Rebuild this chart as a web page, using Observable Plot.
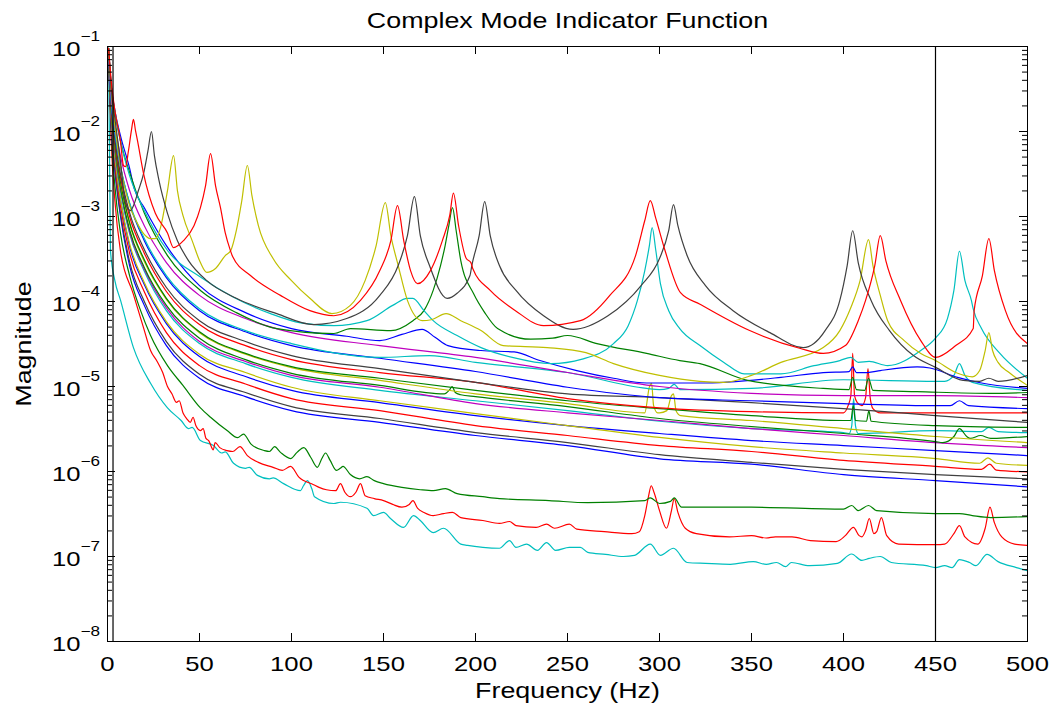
<!DOCTYPE html>
<html>
<head>
<meta charset="utf-8">
<script src="https://cdn.jsdelivr.net/npm/d3@7"></script>
<script src="https://cdn.jsdelivr.net/npm/@observablehq/plot@0.6"></script>
<style>
  html, body { margin: 0; padding: 0; background: #fff; }
  #chart { width: 1055px; height: 708px; }
</style>
</head>
<body>
<div id="chart"></div>
<script>
// ---- Text ----
const titleText = "Complex Mode Indicator Function";
const xLabelText = "Frequency (Hz)";
const yLabelText = "Magnitude";

// ---- Axes ----
const xTickValues = [0, 50, 100, 150, 200, 250, 300, 350, 400, 450, 500];
const yDecades = [1e-8, 1e-7, 1e-6, 1e-5, 1e-4, 1e-3, 1e-2, 1e-1];
const markerFreqs = [3, 450];

// ---- Line colours (classic MATLAB colour order) ----
const C = {
  blue: "#0000ff", green: "#008000", red: "#ff0000", cyan: "#00bfbf",
  magenta: "#bf00bf", yellow: "#bfbf00", gray: "#404040"
};

// ---- Dominant singular-value curves: [frequency Hz, magnitude] ----
const redMode = [[0.6,9.5e-2],[2,4.0e-2],[4,1.77e-2],[7,7.8e-3],[8.7,3.98e-3],[9.8,3.87e-3],[11.4,5.95e-3],[13,1.03e-2],[14.1,1.39e-2],[15.2,1.03e-2],[16.3,7.8e-3],[19.6,3.2e-3],[26,1.09e-3],[32.6,6.4e-4],[35.9,4.3e-4],[41.3,5.2e-4],[47,7.8e-4],[50.5,1.27e-3],[53.3,2.31e-3],[56,5.5e-3],[58.7,2.31e-3],[61.4,1.27e-3],[64,6.4e-4],[66.8,3.98e-4],[68,3.38e-4],[77.7,2.02e-4],[94,1.18e-4],[110,7.8e-5],[123,6.8e-5],[137.5,1.03e-4],[148,2.31e-4],[154,5.2e-4],[157.6,1.34e-3],[161,5.2e-4],[164.7,2.31e-4],[168.5,1.62e-4],[175.5,2.31e-4],[182,5.2e-4],[186,1.03e-3],[188,1.88e-3],[190.8,7.8e-4],[195,3.2e-4],[197.5,2.87e-4],[198.5,2.45e-4],[208,1.35e-4],[221.7,7.8e-5],[237,5.2e-5],[257,5.95e-5],[273,1.18e-4],[287,3.47e-4],[292,8.97e-4],[295,1.54e-3],[298,9.5e-4],[303,3.98e-4],[311.4,1.27e-4],[322,9.3e-5],[349,4.55e-5],[376.6,2.8e-5],[389,2.45e-5],[401,3.03e-5],[408,5.95e-5],[412,1.03e-4],[417,2.65e-4],[420,5.95e-4],[423,3.03e-4],[431,1.03e-4],[442,3.47e-5],[450,2.2e-5],[461,3.03e-5],[470.5,4.8e-5],[471,7.8e-5],[475.5,2.02e-4],[479,5.5e-4],[482,2.31e-4],[488,7.8e-5],[500,3.2e-5]];

const grayMode = [[0.6,9.5e-2],[2,3.2e-2],[4,1.43e-2],[7,4.55e-3],[9.8,1.42e-3],[12.5,1.17e-3],[14.1,1.34e-3],[16.8,2.02e-3],[19.6,3.2e-3],[22,5.95e-3],[23.9,1.0e-2],[25.5,5.2e-3],[28,2.65e-3],[32.6,1.09e-3],[38,5.2e-4],[44,3.03e-4],[54,1.76e-4],[70,1.09e-4],[92,7.2e-5],[112,5.35e-5],[130,6.3e-5],[148,1.18e-4],[158,2.65e-4],[163,5.95e-4],[166.8,1.71e-3],[170,5.95e-4],[175,2.65e-4],[184.6,1.09e-4],[190,1.25e-4],[197,2.02e-4],[198,2.65e-4],[202,5.95e-4],[205,1.5e-3],[208,5.95e-4],[213,2.65e-4],[222,1.35e-4],[237,6.8e-5],[253,4.7e-5],[272,6.8e-5],[290,1.54e-4],[300,3.2e-4],[305,6.8e-4],[307.6,1.38e-3],[310,7.8e-4],[315,3.47e-4],[325,1.54e-4],[340,7.8e-5],[360,4.3e-5],[378,2.87e-5],[390,4.55e-5],[398,1.03e-4],[402,2.65e-4],[405,6.8e-4],[408,2.87e-4],[415,1.03e-4],[425,4.55e-5],[438,2.31e-5],[450,1.68e-5],[465,1.18e-5],[474,1.15e-5],[479,1.25e-5],[484,1.15e-5],[500,1.35e-5]];

const yellowMode = [[0.6,9.5e-2],[2,3.03e-2],[4,1.18e-2],[7,3.98e-3],[12,1.34e-3],[16,8.5e-4],[19.6,6.3e-4],[23.4,5.5e-4],[26,5.5e-4],[28.8,7.4e-4],[32.6,2.02e-3],[35.9,5.2e-3],[38,2.02e-3],[41,1.03e-3],[46,5.2e-4],[50.5,2.87e-4],[54,2.2e-4],[58.7,2.45e-4],[64,3.47e-4],[67,3.98e-4],[70,6.8e-4],[73,1.54e-3],[76,3.98e-3],[78.5,1.76e-3],[82,7.8e-4],[90,3.2e-4],[100,1.76e-4],[110,1.09e-4],[122,7.2e-5],[132,9.0e-5],[140,1.76e-4],[146,4.55e-4],[151,1.46e-3],[154,5.95e-4],[158,2.65e-4],[163,1.03e-4],[171,5.95e-5],[176,6.1e-5],[184,7.2e-5],[192,5.95e-5],[203,4.55e-5],[215,3.03e-5],[239,2.87e-5],[260,2.5e-5],[275,1.86e-5],[300,1.35e-5],[322,1.15e-5],[335,1.12e-5],[350,1.35e-5],[366,1.92e-5],[389,2.87e-5],[398,4.55e-5],[404,8.5e-5],[409,1.76e-4],[413.6,5.35e-4],[416,2.65e-4],[420,1.18e-4],[424,5.95e-5],[433,3.47e-5],[442,2.45e-5],[450,2.02e-5],[462,1.43e-5],[470,1.3e-5],[474,1.54e-5],[477,2.65e-5],[479,4.3e-5],[481,2.65e-5],[484,1.92e-5],[490,1.46e-5],[500,1.03e-5]];

const cyanMode = [[0.6,9.5e-2],[2,3.48e-2],[4,1.77e-2],[7,7.8e-3],[12,3.03e-3],[20,1.17e-3],[32.6,3.98e-4],[50.5,1.94e-4],[68.5,1.12e-4],[88.6,7.2e-5],[105,5.6e-5],[123,5.2e-5],[141,5.95e-5],[155,9.0e-5],[163,1.09e-4],[166,1.09e-4],[172,7.8e-5],[177,5.95e-5],[190,3.98e-5],[203,2.87e-5],[220,2.2e-5],[241,1.86e-5],[258,2.1e-5],[275,3.2e-5],[283,5.2e-5],[288,1.03e-4],[292,2.31e-4],[294.5,4.55e-4],[296,7.4e-4],[298,3.98e-4],[300.5,1.62e-4],[305,7.8e-5],[311,4.8e-5],[322,3.03e-5],[335,1.92e-5],[346,1.41e-5],[366,1.41e-5],[384,1.76e-5],[398,2.02e-5],[404,2.2e-5],[408,1.92e-5],[414,1.97e-5],[424,1.76e-5],[442,2.65e-5],[450,3.7e-5],[456.5,6.3e-5],[460,1.35e-4],[463,3.9e-4],[466,1.76e-4],[469.5,1.03e-4],[470.5,8.2e-5],[475,4.8e-5],[485,2.45e-5],[500,1.25e-5]];

const greenMode = [[0.6,9.5e-2],[2,3.48e-2],[4,1.68e-2],[7,7.8e-3],[12,3.3e-3],[20,1.1e-3],[32.6,3.47e-4],[50.5,1.35e-4],[70,7.4e-5],[92,4.8e-5],[123,4.2e-5],[132,4.8e-5],[154,4.55e-5],[166,5.95e-5],[172,7.8e-5],[177,1.35e-4],[181,2.65e-4],[183.5,4.55e-4],[185.5,7.8e-4],[187.5,1.27e-3],[189.5,6.8e-4],[192,3.03e-4],[199,1.23e-4],[205,7.4e-5],[212,4.8e-5],[230,3.6e-5],[242,3.7e-5],[250,3.98e-5],[266,3.2e-5],[293,2.45e-5],[311,2.02e-5],[322,1.86e-5],[348,1.18e-5],[389,9.5e-6],[403,9.2e-6],[405,1.28e-5],[407,9.2e-6],[411.5,9.0e-6],[413.6,1.25e-5],[416,9.0e-6],[440,8.7e-6],[480,8.3e-6],[500,8.5e-6]];

const blueMode = [[0.6,9.5e-2],[2,3.48e-2],[4,1.77e-2],[7,9.0e-3],[12,3.7e-3],[14.5,2.15e-3],[20,1.27e-3],[32,4.55e-4],[50,1.54e-4],[75,7.4e-5],[100,4.8e-5],[130,3.9e-5],[148,3.47e-5],[160,4.1e-5],[171,4.7e-5],[178,3.8e-5],[185,3.03e-5],[203,2.65e-5],[221,2.55e-5],[235,2.02e-5],[255,1.54e-5],[275,1.25e-5],[293,1.1e-5],[322,1.1e-5],[366,1.28e-5],[389,1.46e-5],[403,1.5e-5],[405,1.7e-5],[407,1.46e-5],[413,1.46e-5],[420,1.54e-5],[440,1.7e-5],[447,1.65e-5],[462,1.28e-5],[475,1.1e-5],[500,9.5e-6]];

// ---- Middle bundle: shared frequency grid + magnitudes, plus local features ----
const bundleFreq = [0.6, 2, 4, 7, 12, 20, 32, 50, 75, 100, 148, 200, 250, 300, 350, 400, 450, 500];

const magenta1 = [8.97e-2,2.65e-2,1.18e-2,5.2e-3,2.02e-3,7.8e-4,2.87e-4,1.18e-4,6.3e-5,4.3e-5,3.03e-5,2.2e-5,1.46e-5,1.0e-5,8.3e-6,7.8e-6,7.8e-6,7.4e-6];
const cyan2 = [8.7e-2,2.3e-2,9.9e-3,3.98e-3,1.45e-3,5.5e-4,2.02e-4,8.2e-5,4.55e-5,3.2e-5,2.2e-5,1.92e-5,1.46e-5,9.2e-6,9.5e-6,1.2e-5,1.15e-5,9.0e-6];
const cyan2Extra = [[175,2.31e-5],[293,9.5e-6],[305,9.5e-6],[308,1.06e-5],[311,9.2e-6],[455,1.15e-5],[460,1.35e-5],[463,1.86e-5],[466,1.35e-5],[470,1.12e-5]];
const blue2 = [8.7e-2,2.27e-2,9.5e-3,3.88e-3,1.42e-3,5.2e-4,1.91e-4,7.8e-5,4.4e-5,3.03e-5,2.15e-5,1.5e-5,9.8e-6,7.4e-6,6.8e-6,6.3e-6,5.95e-6,5.5e-6];
const blue2Extra = [[458,5.95e-6],[463,6.8e-6],[468,5.95e-6]];
const gray2 = [8.5e-2,2.07e-2,8.0e-3,3.2e-3,1.11e-3,4.1e-4,1.46e-4,5.95e-5,3.38e-5,2.31e-5,1.62e-5,1.12e-5,8.2e-6,7.4e-6,6.45e-6,5.5e-6,4.55e-6,3.78e-6];
const red2 = [8.5e-2,1.96e-2,7.6e-3,2.95e-3,1.0e-3,3.7e-4,1.31e-4,5.35e-5,3.03e-5,2.07e-5,1.46e-5,1.12e-5,7.2e-6,5.6e-6,5.05e-6,4.9e-6,4.9e-6,4.9e-6];
const red2Extra = [[402.5,5.95e-6],[404,7.8e-6],[405,2.45e-5],[406,7.8e-6],[407.5,6.45e-6],[410,5.95e-6],[412,7.4e-6],[413.3,1.62e-5],[414.5,7.4e-6],[416,5.5e-6],[420,4.9e-6]];
const green2 = [8.5e-2,1.86e-2,7.0e-3,2.58e-3,8.5e-4,3.1e-4,1.09e-4,4.4e-5,2.45e-5,1.71e-5,1.25e-5,9.0e-6,6.8e-6,5.5e-6,4.55e-6,3.98e-6,3.47e-6,3.3e-6];
const green2Extra = [[404,3.98e-6],[405.3,5.95e-6],[406.5,3.98e-6],[412.5,3.9e-6],[413.8,5.2e-6],[415,3.9e-6]];
const yellow2 = [8.5e-2,1.82e-2,6.8e-3,2.52e-3,8.2e-4,2.95e-4,1.06e-4,4.3e-5,2.4e-5,1.67e-5,1.18e-5,8.2e-6,6.3e-6,4.9e-6,3.98e-6,3.2e-6,2.58e-6,2.19e-6];
const yellow2Extra = [[292,4.9e-6],[294.5,9.9e-6],[295.7,1.09e-5],[296.8,5.95e-6],[299,4.9e-6],[304,5.2e-6],[306.5,7.8e-6],[307.6,8.2e-6],[309,5.2e-6],[311.5,4.55e-6]];
const green3 = [8.3e-2,1.72e-2,6.5e-3,2.25e-3,7.0e-4,2.52e-4,9.0e-5,3.7e-5,2.07e-5,1.43e-5,1.03e-5,7.6e-6,5.8e-6,4.2e-6,3.38e-6,2.8e-6,2.25e-6,2.58e-6];
const green3Extra = [[183,8.2e-6],[186,9.2e-6],[187.3,1.0e-5],[189,8.5e-6],[192,8.0e-6],[454,2.19e-6],[460,2.58e-6],[463,3.2e-6],[467,2.58e-6],[469,2.45e-6],[474.5,2.65e-6],[480,2.45e-6],[490,2.5e-6]];
const magenta2 = [8.3e-2,1.67e-2,5.95e-3,2.15e-3,6.6e-4,2.4e-4,8.4e-5,3.38e-5,1.97e-5,1.35e-5,9.8e-6,6.3e-6,4.9e-6,3.98e-6,3.2e-6,2.65e-6,2.19e-6,1.91e-6];
const cyan3 = [8.3e-2,1.67e-2,5.8e-3,2.02e-3,6.3e-4,2.27e-4,7.8e-5,3.2e-5,1.86e-5,1.28e-5,9.0e-6,6.8e-6,5.2e-6,3.9e-6,3.2e-6,2.87e-6,3.03e-6,2.87e-6];
const cyan3Extra = [[403,2.8e-6],[404.5,3.47e-6],[405.5,7.2e-6],[406.5,3.47e-6],[408,2.8e-6],[475,2.95e-6],[479,3.3e-6],[484,2.95e-6]];
const yellow3 = [8.0e-2,1.5e-2,4.9e-3,1.62e-3,4.8e-4,1.67e-4,5.8e-5,2.4e-5,1.46e-5,9.8e-6,6.8e-6,4.8e-6,3.47e-6,2.52e-6,1.96e-6,1.65e-6,1.42e-6,1.18e-6];
const yellow3Extra = [[474,1.25e-6],[478.5,1.45e-6],[483,1.25e-6]];
const blue3 = [8.0e-2,1.46e-2,4.75e-3,1.6e-3,4.45e-4,1.58e-4,5.5e-5,2.25e-5,1.31e-5,9.0e-6,6.45e-6,4.55e-6,3.47e-6,2.8e-6,2.31e-6,2.02e-6,1.76e-6,1.54e-6];
const red3 = [8.0e-2,1.35e-2,4.2e-3,1.34e-3,3.7e-4,1.3e-4,4.3e-5,1.76e-5,1.07e-5,7.2e-6,5.2e-6,3.47e-6,2.65e-6,2.02e-6,1.72e-6,1.35e-6,1.15e-6,9.9e-7];
const red3Extra = [[475,1.06e-6],[479.5,1.22e-6],[483,1.04e-6]];
const gray3 = [7.8e-2,1.25e-2,3.7e-3,1.11e-3,2.95e-4,1.0e-4,3.38e-5,1.39e-5,8.5e-6,5.8e-6,4.2e-6,2.87e-6,2.19e-6,1.58e-6,1.28e-6,1.06e-6,9.2e-7,8.2e-7];
const blue4 = [7.8e-2,1.18e-2,3.47e-3,1.03e-3,2.65e-4,9.0e-5,3.03e-5,1.25e-5,7.6e-6,5.2e-6,3.78e-6,2.65e-6,2.02e-6,1.41e-6,1.22e-6,9.2e-7,7.8e-7,6.6e-7];

// ---- Lowest (noise-floor) curves ----
const greenFloor = [[0.6,7.6e-2],[2,1.03e-2],[4,2.31e-3],[7,6.5e-4],[12,2.02e-4],[18,7.8e-5],[23.4,3.98e-5],[32.6,1.76e-5],[41,1.03e-5],[50.5,5.6e-6],[56,4.35e-6],[65,3.03e-6],[70.7,2.5e-6],[73.9,2.75e-6],[78,2.1e-6],[85.3,1.76e-6],[88,1.72e-6],[90.8,1.96e-6],[94,1.68e-6],[99.5,1.42e-6],[103,1.68e-6],[106.7,1.91e-6],[110.5,1.46e-6],[114,1.12e-6],[116.5,1.42e-6],[118.5,1.65e-6],[121,1.35e-6],[124.5,1.03e-6],[126.5,1.09e-6],[128,1.15e-6],[132,9.2e-7],[137,8.2e-7],[141,8.7e-7],[145,7.8e-7],[150,7.2e-7],[160,6.5e-7],[170,6.1e-7],[177,5.95e-7],[183.7,6.3e-7],[190,5.5e-7],[204,5.05e-7],[213,4.8e-7],[240,4.55e-7],[261,4.3e-7],[292,4.55e-7],[295,4.9e-7],[300,4.2e-7],[306,4.45e-7],[308,4.9e-7],[312,3.8e-7],[350,3.8e-7],[400,3.6e-7],[404.5,3.98e-7],[408,3.47e-7],[413.6,3.98e-7],[418,3.47e-7],[450,3.2e-7],[463,3.2e-7],[470,3.03e-7],[480,2.87e-7],[500,2.95e-7]];

const redFloor = [[0.6,7.2e-2],[2,7.8e-3],[4,1.54e-3],[7,3.98e-4],[14,1.23e-4],[19.6,4.9e-5],[23.4,2.65e-5],[27,1.97e-5],[30,1.46e-5],[32.6,1.0e-5],[35,8.2e-6],[37.5,6.5e-6],[39,6.8e-6],[41,4.9e-6],[43,4.2e-6],[45,3.78e-6],[46.5,4.35e-6],[48,3.47e-6],[50.5,3.03e-6],[52,3.2e-6],[53.5,2.45e-6],[55,2.31e-6],[57.5,1.8e-6],[58.5,2.19e-6],[61,1.91e-6],[65,1.76e-6],[68,1.72e-6],[72,1.96e-6],[76,1.54e-6],[82,1.28e-6],[90,1.12e-6],[95,1.03e-6],[99.5,1.15e-6],[104,8.6e-7],[112,7.0e-7],[115,6.5e-7],[119,6.1e-7],[124,5.95e-7],[126.6,7.2e-7],[129,5.7e-7],[132,5.05e-7],[135,5.7e-7],[137.5,7.2e-7],[140,5.2e-7],[145,4.8e-7],[150,4.55e-7],[155,4.1e-7],[160,3.8e-7],[164,4.1e-7],[166,4.55e-7],[168.5,3.7e-7],[172,3.3e-7],[177,3.03e-7],[182.6,3.2e-7],[187.5,3.3e-7],[192,2.87e-7],[204,2.65e-7],[213,2.45e-7],[218.5,2.58e-7],[222,2.31e-7],[233,2.2e-7],[238.6,2.4e-7],[243,2.15e-7],[251,2.4e-7],[255,2.1e-7],[270,1.96e-7],[285,1.86e-7],[289,1.96e-7],[292,3.03e-7],[294,5.05e-7],[295.5,6.8e-7],[297,5.7e-7],[300,3.47e-7],[303.8,2.15e-7],[306.5,3.47e-7],[308,4.8e-7],[310,3.3e-7],[314,2.15e-7],[320,1.86e-7],[338,1.7e-7],[350,1.76e-7],[358,1.65e-7],[363,1.7e-7],[372,1.7e-7],[382,1.54e-7],[396,1.5e-7],[401,1.76e-7],[405.4,2.2e-7],[408.5,1.76e-7],[410,1.7e-7],[412,2.02e-7],[414,2.8e-7],[416.5,1.86e-7],[418,1.96e-7],[420.6,2.87e-7],[423.5,1.76e-7],[430,1.4e-7],[450,1.38e-7],[455,1.4e-7],[460,1.86e-7],[463,2.31e-7],[466,1.7e-7],[473,1.4e-7],[477,2.15e-7],[479.6,3.8e-7],[482,2.5e-7],[486,1.7e-7],[493,1.4e-7],[500,1.35e-7]];

const cyanFloor = [[0.6,6.8e-2],[1.6,3.98e-4],[4,1.76e-4],[7.1,1.03e-4],[14.1,2.87e-5],[23.4,1.09e-5],[32.6,5.6e-6],[40,3.98e-6],[44,3.2e-6],[46,3.3e-6],[50.5,2.31e-6],[57.6,2.02e-6],[62,1.65e-6],[64,1.7e-6],[68.5,1.25e-6],[75,1.09e-6],[77,1.12e-6],[81.5,9.0e-7],[88,8.2e-7],[90,8.4e-7],[95.7,7.2e-7],[104.9,5.95e-7],[106.5,6.8e-7],[108.7,7.8e-7],[111,6.3e-7],[112.5,5.05e-7],[123,4.2e-7],[126.6,4.35e-7],[141,3.7e-7],[144.6,3.03e-7],[150,3.3e-7],[153.8,2.8e-7],[160.9,2.2e-7],[166.3,3.03e-7],[170,2.65e-7],[177,1.91e-7],[182.6,2.15e-7],[192,1.4e-7],[195.7,1.35e-7],[204,1.28e-7],[213,1.25e-7],[218.5,1.54e-7],[222,1.28e-7],[227.7,1.4e-7],[233.7,1.18e-7],[238.6,1.46e-7],[243.5,1.18e-7],[251,1.28e-7],[257,1.28e-7],[261,1.12e-7],[270.7,1.06e-7],[280.4,1.0e-7],[286.4,1.03e-7],[295,1.4e-7],[300.5,1.03e-7],[307.6,1.25e-7],[315,8.5e-8],[325,8.3e-8],[338.6,8.1e-8],[351,8.7e-8],[358,8.1e-8],[363.6,8.5e-8],[368.5,7.6e-8],[371.7,8.5e-8],[381.5,7.8e-8],[396.7,8.3e-8],[404.4,1.07e-7],[410,9.0e-8],[414,9.5e-8],[420,1.0e-7],[426,8.5e-8],[445,7.8e-8],[450,7.4e-8],[455,7.8e-8],[459,7.4e-8],[463,9.2e-8],[468.5,8.5e-8],[472,7.8e-8],[478,1.06e-7],[484,8.7e-8],[494,7.4e-8],[500,6.8e-8]];

// ---- Assemble series (drawn bottom layer first) ----
function gridSeries(values, extra = []) {
  return bundleFreq.map((f, i) => [f, values[i]]).concat(extra);
}

const series = [
  {id: "cyanFloor", color: C.cyan, pts: cyanFloor},
  {id: "redFloor", color: C.red, pts: redFloor},
  {id: "greenFloor", color: C.green, pts: greenFloor},
  {id: "blue4", color: C.blue, pts: gridSeries(blue4)},
  {id: "gray3", color: C.gray, pts: gridSeries(gray3)},
  {id: "red3", color: C.red, pts: gridSeries(red3, red3Extra)},
  {id: "blue3", color: C.blue, pts: gridSeries(blue3)},
  {id: "yellow3", color: C.yellow, pts: gridSeries(yellow3, yellow3Extra)},
  {id: "cyan3", color: C.cyan, pts: gridSeries(cyan3, cyan3Extra)},
  {id: "magenta2", color: C.magenta, pts: gridSeries(magenta2)},
  {id: "green3", color: C.green, pts: gridSeries(green3, green3Extra)},
  {id: "yellow2", color: C.yellow, pts: gridSeries(yellow2, yellow2Extra)},
  {id: "green2", color: C.green, pts: gridSeries(green2, green2Extra)},
  {id: "red2", color: C.red, pts: gridSeries(red2, red2Extra)},
  {id: "gray2", color: C.gray, pts: gridSeries(gray2)},
  {id: "blue2", color: C.blue, pts: gridSeries(blue2, blue2Extra)},
  {id: "cyan2", color: C.cyan, pts: gridSeries(cyan2, cyan2Extra)},
  {id: "magenta1", color: C.magenta, pts: gridSeries(magenta1)},
  {id: "blueMode", color: C.blue, pts: blueMode},
  {id: "greenMode", color: C.green, pts: greenMode},
  {id: "cyanMode", color: C.cyan, pts: cyanMode},
  {id: "yellowMode", color: C.yellow, pts: yellowMode},
  {id: "grayMode", color: C.gray, pts: grayMode},
  {id: "redMode", color: C.red, pts: redMode}
];

const rows = series.flatMap(s =>
  s.pts.slice().sort((a, b) => a[0] - b[0]).map(([f, v]) => ({id: s.id, color: s.color, f, v}))
);

const yMinor = [];
for (const d of yDecades.slice(0, -1)) for (let m = 2; m <= 9; m++) yMinor.push(m * d);

// ---- Layout ----
const W = 1055, H = 708;
const mL = 107, mR = 28, mT = 46, mB = 67;
const plotW = W - mL - mR, plotH = H - mT - mB;
const majorLen = 8, minorLen = 5;

const chart = Plot.plot({
  width: W, height: H,
  marginLeft: mL, marginRight: mR, marginTop: mT, marginBottom: mB,
  x: {domain: [0, 500], axis: null},
  y: {type: "log", domain: [1e-8, 1e-1], axis: null},
  color: {type: "identity"},
  style: {fontFamily: "'Liberation Sans', Arial, Helvetica, sans-serif", background: "#ffffff", color: "#000"},
  marks: [
    Plot.line(rows, {x: "f", y: "v", z: "id", stroke: "color", strokeWidth: 1.2, curve: "monotone-x", clip: true}),
    Plot.ruleX(markerFreqs, {x: d => d, stroke: "#000", strokeWidth: 1.2}),
    Plot.frame({stroke: "#000", strokeWidth: 1}),
    // inward ticks on all four sides
    Plot.tickX(xTickValues, {x: d => d, insetTop: plotH - majorLen, stroke: "#000"}),
    Plot.tickX(xTickValues, {x: d => d, insetBottom: plotH - majorLen, stroke: "#000"}),
    Plot.tickY(yDecades, {y: d => d, insetRight: plotW - majorLen, stroke: "#000"}),
    Plot.tickY(yDecades, {y: d => d, insetLeft: plotW - majorLen, stroke: "#000"}),
    Plot.tickY(yMinor, {y: d => d, insetRight: plotW - minorLen, stroke: "#000"}),
    Plot.tickY(yMinor, {y: d => d, insetLeft: plotW - minorLen, stroke: "#000"}),
    // tick labels
    Plot.text(xTickValues, {x: d => d, text: d => String(d), frameAnchor: "bottom", lineAnchor: "bottom", dy: 29, fontSize: 21, fill: "#000"}),
    Plot.text(yDecades, {y: d => d, text: () => "10", frameAnchor: "left", textAnchor: "end", lineAnchor: "bottom", dx: -27, dy: 9, fontSize: 21, fill: "#000"}),
    Plot.text(yDecades, {y: d => d, text: d => "\u2212" + Math.round(-Math.log10(d)), frameAnchor: "left", textAnchor: "start", lineAnchor: "bottom", dx: -27, dy: -6, fontSize: 14, fill: "#000"}),
    // title and axis labels
    Plot.text([titleText], {text: d => d, frameAnchor: "top", textAnchor: "middle", lineAnchor: "bottom", dy: -19, fontSize: 22, fill: "#000"}),
    Plot.text([xLabelText], {text: d => d, frameAnchor: "bottom", textAnchor: "middle", lineAnchor: "bottom", dy: 56, fontSize: 22, fill: "#000"}),
    Plot.text([yLabelText], {text: d => d, frameAnchor: "left", textAnchor: "middle", rotate: -90, lineAnchor: "bottom", dx: -77, fontSize: 22, fill: "#000", ariaLabel: "y-label"})
  ]
});

document.getElementById("chart").append(chart);

// Horizontal text widening (wide sans lettering)
const STRETCH = 1.22;
d3.select(chart).selectAll("text").each(function () {
  if (this.closest('[aria-label="y-label"]')) return;
  const len = this.getComputedTextLength();
  if (len > 0) {
    this.setAttribute("textLength", (len * STRETCH).toFixed(1));
    this.setAttribute("lengthAdjust", "spacingAndGlyphs");
  }
});
</script>
</body>
</html>
